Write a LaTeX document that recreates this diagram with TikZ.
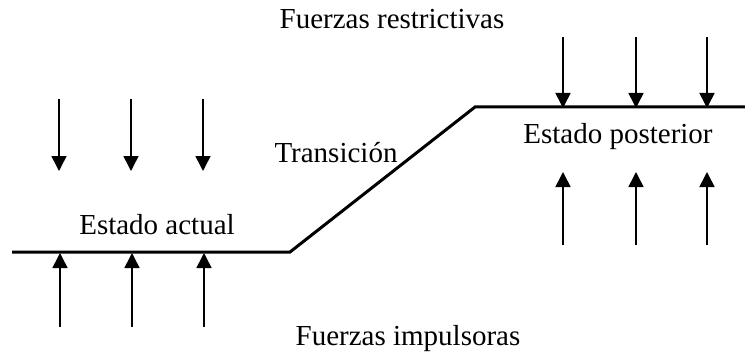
\documentclass[tikz,border=0pt]{standalone}
\usepackage{fontspec}
\setmainfont{Liberation Serif}
\usetikzlibrary{arrows.meta}
\begin{document}
\begin{tikzpicture}[x=1pt,y=-1pt,
  lbl/.style={font=\fontsize{29}{32}\selectfont, anchor=base, inner sep=0pt},
  force/.style={line width=1.6pt, -{Triangle[width=15pt,length=15pt]}},
  state/.style={line width=3pt}]
\useasboundingbox (0,0) rectangle (745,353);
% state line
\coordinate (s0) at (12,252);
\coordinate (s1) at (290,252);
\coordinate (s2) at (475,107);
\coordinate (s3) at (745,107);
\draw[state] (s0) -- (s1) -- (s2) -- (s3);
% labels
\node[lbl] (fr) at (392,29) {Fuerzas restrictivas};
\node[lbl] (fi) at (408,345) {Fuerzas impulsoras};
\node[lbl] (ea) at (157,234) {Estado actual};
\node[lbl] (ep) at (618,143) {Estado posterior};
\node[lbl] (tr) at (336,162) {Transición};
% left forces
\foreach \x [count=\i] in {59,131,203}{
  \coordinate (ld\i a) at (\x,99);
  \coordinate (ld\i b) at (\x,171);
  \draw[force] (ld\i a) -- (ld\i b);
  \coordinate (lu\i a) at (\x+1,327);
  \coordinate (lu\i b) at (\x+1,253);
  \draw[force] (lu\i a) -- (lu\i b);
}
% right forces
\foreach \x [count=\i] in {563,636,707}{
  \coordinate (rd\i a) at (\x,37);
  \coordinate (rd\i b) at (\x,108);
  \draw[force] (rd\i a) -- (rd\i b);
  \coordinate (ru\i a) at (\x,245);
  \coordinate (ru\i b) at (\x,172);
  \draw[force] (ru\i a) -- (ru\i b);
}
\end{tikzpicture}
\end{document}
